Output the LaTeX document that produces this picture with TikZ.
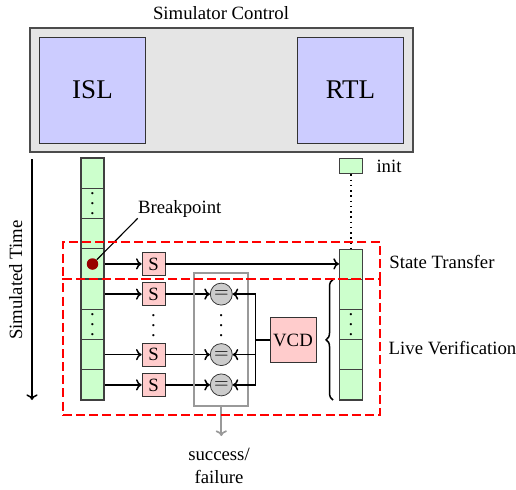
\documentclass[tikz,border=0pt]{standalone}
\usepackage{fontspec}
\setmainfont{Liberation Serif}
\usetikzlibrary{decorations.pathreplacing,arrows.meta}
\def\pxu{0.5333pt}
\newcommand{\myvdots}{\vbox{\baselineskip=5.4pt\lineskiplimit=0pt\hbox{.}\hbox{.}\hbox{.}}}
\begin{document}
\begin{tikzpicture}[x=0.5333pt,y=-0.5333pt,
  cell/.style={draw=black!75, semithick, fill=green!20, minimum width=23*\pxu, minimum height=30.25*\pxu, inner sep=0pt},
  rcell/.style={cell, minimum height=30.1*\pxu},
  sbox/.style={draw=black!80, fill=red!20, minimum size=23*\pxu, inner sep=0pt},
  eqnode/.style={circle, draw=black!80, fill=black!20, minimum size=22*\pxu, inner sep=0pt},
  bluebox/.style={draw=black!80, fill=blue!20, minimum size=106*\pxu, inner sep=0pt, font=\Large},
  reddash/.style={draw=red, line width=1pt, dash pattern=on 4.8pt off 2.2pt, inner sep=0pt, minimum width=317*\pxu},
  arr/.style={thick,-{To[length=3pt,width=6pt]}},
  dotsnode/.style={inner sep=0pt}]
\useasboundingbox (0,0) rectangle (516,489);

% simulator control
\node (title) at (221,13) {Simulator Control};
\node[draw=black!70, fill=black!10, line width=0.8pt, minimum width=383*\pxu, minimum height=124*\pxu, inner sep=0pt] (ctrl) at (221.5,90) {};
\node[bluebox] (isl) at (92.5,90) {ISL};
\node[bluebox] (rtl) at (350.5,90) {RTL};

% left column
\node[cell] (L1) at (92.5,173.1) {};
\node[cell] (L2) at (92.5,203.4) {\myvdots};
\node[cell] (L3) at (92.5,233.6) {};
\node[cell] (L4) at (92.5,263.9) {};
\node[cell] (L5) at (92.5,294.1) {};
\node[cell] (L6) at (92.5,324.4) {\myvdots};
\node[cell] (L7) at (92.5,354.6) {};
\node[cell] (L8) at (92.5,384.9) {};

% right column
\node[cell, minimum height=15.7*\pxu] (init) at (351,166) {};
\node (initlbl) at (389,166) {init};
\node[rcell] (R1) at (351,264.6) {};
\node[rcell] (R2) at (351,294.6) {};
\node[rcell] (R3) at (351,324.7) {\myvdots};
\node[rcell] (R4) at (351,354.8) {};
\node[rcell] (R5) at (351,384.9) {};
\draw[dotted, thick] (init.south) -- (R1.north);

% breakpoint
\node[circle, fill=red!60!black, minimum size=11.5*\pxu, inner sep=0pt] (bpdot) at (92.5,264) {};
\node[anchor=south west, inner sep=0pt] (bp) at (137.7,218.3) {Breakpoint};
\draw[semithick] (bpdot.45) -- (bp.south west);

% S boxes and comparators
\coordinate (sx) at (153.5,0);
\coordinate (ex) at (221.3,0);
\node[sbox] (S1) at (L4 -| sx) {S};
\node[sbox] (S2) at (L5 -| sx) {S};
\node[sbox] (S3) at (L7 -| sx) {S};
\node[sbox] (S4) at (L8 -| sx) {S};
\node[dotsnode] (Sd) at (153.5,325.5) {\myvdots};
\node[eqnode] (E2) at (L5 -| ex) {$=$};
\node[eqnode] (E3) at (L7 -| ex) {$=$};
\node[eqnode] (E4) at (L8 -| ex) {$=$};
\node[dotsnode] (Ed) at (221.3,325.5) {\myvdots};

\draw[arr] (L4.east) -- (S1.west);
\draw[arr] (S1.east) -- (S1 -| R1.west);
\draw[arr] (L5.east) -- (S2.west);
\draw[arr] (S2.east) -- (E2.west);
\draw[arr] (L7.east) -- (S3.west);
\draw[arr] (S3.east) -- (E3.west);
\draw[arr] (L8.east) -- (S4.west);
\draw[arr] (S4.east) -- (E4.west);

% gray frame and result
\node[draw=black!40, line width=0.9pt, minimum width=54*\pxu, minimum height=132.5*\pxu, inner sep=0pt] (gbox) at (221.3,339.5) {};
\coordinate (gend) at (221.3,436);
\draw[black!40, line width=0.9pt, -{To[length=3pt,width=6pt]}] (gbox.south) -- (gend);
\node[align=center, inner sep=0pt] (sf) at (219,466) {success/\\failure};

% VCD
\node[draw=black!80, fill=red!20, minimum width=46*\pxu, minimum height=45.5*\pxu, inner sep=0pt] (vcd) at (293,340) {VCD};
\draw[line width=1.3pt] (vcd.west) -- ++(-14,0);
\draw[arr] (vcd.west) -- ++(-14,0) |- (E2.east);
\draw[arr] (vcd.west) -- ++(-14,0) |- (E3.east);
\draw[arr] (vcd.west) -- ++(-14,0) |- (E4.east);

% brace
\coordinate (bt) at (333,279.5);
\coordinate (bb) at (333,400);
\draw[thick, decorate, decoration={brace, amplitude=3.7pt}] (bb) -- (bt);

% phases
\node[reddash, minimum height=37*\pxu] (st) at (221.5,260.5) {};
\node[reddash, minimum height=136*\pxu] (lv) at (221.5,347) {};
\node (stl) at (442,262) {State Transfer};
\node (lvl) at (452.5,348) {Live Verification};

% simulated time
\coordinate (tt) at (32,159);
\coordinate (tb) at (32,400);
\draw[arr] (tt) -- (tb);
\node[rotate=90] (simt) at (15.7,280) {Simulated Time};
\end{tikzpicture}
\end{document}
